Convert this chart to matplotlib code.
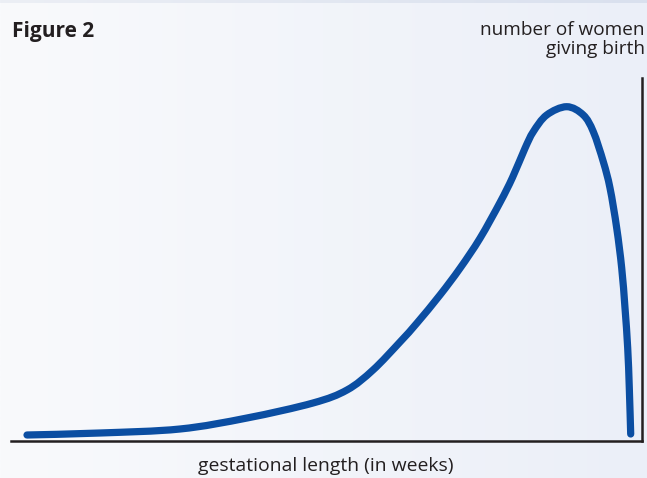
import numpy as np
import matplotlib
matplotlib.use("Agg")
import matplotlib.pyplot as plt
from matplotlib.colors import LinearSegmentedColormap
from matplotlib.path import Path
from matplotlib.patches import PathPatch

# ---- data (arbitrary units; no ticks on the original) ----
gestation = [16, 89, 169, 236, 302, 336, 362, 389, 406, 429, 449, 469, 489,
             501.5, 514, 522.3, 535.7, 555.7, 572.3, 582.3, 592.3, 599, 605.7,
             610.7, 614, 616.7, 618.3, 619.7]
women = [5.5, 7.5, 11.5, 22.5, 37.5, 50.5, 70.5, 98.5, 117.5, 145.5, 172.2, 202.2,
         238, 263, 292.2, 308.8, 325.5, 333.8, 325.5, 308.8, 278.8, 252.5,
         212.5, 172.5, 132.5, 92.5, 52.5, 6.5]
x_range = (0, 631)
y_range = (0, 362.5)

title_text = "Figure 2"
ylabel_lines = ["number of women", "giving birth"]
xlabel_text = "gestational length (in weeks)"

W, H = 647, 478
DPI = 100
fig = plt.figure(figsize=(W / DPI, H / DPI), dpi=DPI)

# background gradient
bg = fig.add_axes([0, 0, 1, 1], zorder=-10)
bg.set_axis_off()
cmap = LinearSegmentedColormap.from_list("bg", ["#f9fafc", "#ebeff8"])
grad = np.linspace(0, 1, 256).reshape(1, -1)
bg.imshow(grad, aspect="auto", cmap=cmap, extent=[0, 1, 0, 1])
band = LinearSegmentedColormap.from_list("band", ["#eceff5", "#d9e0ee"])
bg.imshow(grad, aspect="auto", cmap=band, extent=[0, 1, 1 - 3 / H, 1])
bg.set_xlim(0, 1)
bg.set_ylim(0, 1)

# main axes (pixel geometry)
left_px, right_px, top_px, bottom_px = 11, 642, 78, 440.5
ax = fig.add_axes([left_px / W, 1 - bottom_px / H,
                   (right_px - left_px) / W, (bottom_px - top_px) / H])
ax.patch.set_alpha(0)

# smooth curve through the read points (Catmull-Rom rendered as cubic Bezier path)
P = np.column_stack([gestation, women]).astype(float)
verts = [P[0]]
codes = [Path.MOVETO]
n = len(P)
for i in range(n - 1):
    p0 = P[i - 1] if i > 0 else P[i]
    p1, p2 = P[i], P[i + 1]
    p3 = P[i + 2] if i + 2 < n else P[i + 1]
    c1 = p1 + (p2 - p0) / 6.0
    c2 = p2 - (p3 - p1) / 6.0
    verts += [c1, c2, p2]
    codes += [Path.CURVE4] * 3
curve = PathPatch(Path(verts, codes), facecolor="none", edgecolor="#0b4ea2",
                  lw=5.2, capstyle="round", joinstyle="round",
                  transform=ax.transData, clip_on=False)
ax.add_patch(curve)

ax.set_xlim(*x_range)
ax.set_ylim(*y_range)
for s in ["top", "left"]:
    ax.spines[s].set_visible(False)
for s in ["bottom", "right"]:
    ax.spines[s].set_color("#231f20")
    ax.spines[s].set_linewidth(1.8)
ax.set_xticks([])
ax.set_yticks([])

FONT = "Open Sans"
TXT = "#231f20"

def px(x, y):
    return x / W, 1 - y / H

renderer = fig.canvas.get_renderer()

def fit_text(x, y, s, target_w, ha, weight="normal", size=13):
    t = fig.text(*px(x, y), s, ha=ha, va="baseline", fontsize=size,
                 family=FONT, weight=weight, color=TXT)
    w = t.get_window_extent(renderer).width
    t.set_fontsize(size * target_w / w)
    return t

fit_text(12, 36.7, title_text, 82, "left", weight="bold")
t1 = fit_text(645, 35, ylabel_lines[0], 164, "right")
fig.text(*px(645, 54), ylabel_lines[1], ha="right", va="baseline",
         family=FONT, color=TXT, fontsize=t1.get_fontsize())
fit_text(326, 471, xlabel_text, 254, "center")

fig.savefig("out.png", dpi=DPI)
